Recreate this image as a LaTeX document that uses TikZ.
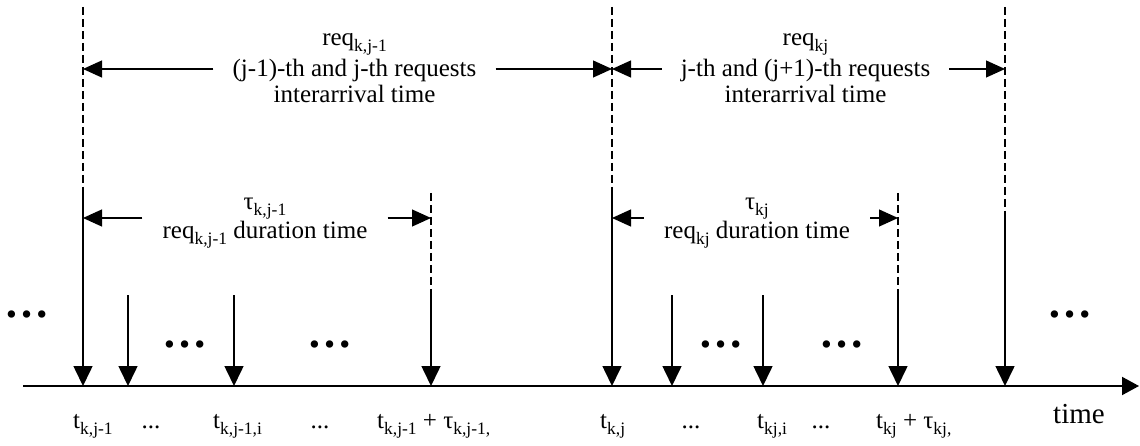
\documentclass[tikz,border=0pt]{standalone}
\usepackage{fontspec}
\setmainfont{Liberation Serif}
\usetikzlibrary{arrows.meta}
\newcommand\mysub[1]{\raisebox{-0.24em}{\fontsize{17.5}{18}\selectfont #1}}
\begin{document}
\begin{tikzpicture}[x=1pt,y=-1pt,
  lbl/.style={font=\fontsize{25}{26}\selectfont, inner sep=0pt},
  bigl/.style={font=\fontsize{29}{30}\selectfont, inner sep=0pt},
  dotsn/.style={font=\fontsize{45}{45}\selectfont\bfseries, inner sep=0pt},
  vdash/.style={line width=1.3pt, dash pattern=on 8pt off 4pt},
  varrow/.style={line width=1.6pt, -{Triangle[length=20pt,width=19pt]}},
  dimarrow/.style={line width=1.2pt, -{Triangle[length=19pt,width=17pt]}},
  axisline/.style={line width=2pt, -{Triangle[length=17pt,width=18pt]}}]
\useasboundingbox (0,0) rectangle (1140,446);

% axis
\coordinate (ax0) at (23,386);
\coordinate (ax1) at (1139,386);
\draw[axisline] (ax0) -- (ax1);

% tick points on the axis
\coordinate (p1) at (83,386);
\coordinate (p2) at (128,386);
\coordinate (p3) at (234,386);
\coordinate (p4) at (431,386);
\coordinate (p5) at (612,386);
\coordinate (p6) at (672,386);
\coordinate (p7) at (763,386);
\coordinate (p8) at (898,386);
\coordinate (p9) at (1005,386);

% tops of dashed lines
\coordinate (q1) at (83,7);
\coordinate (q5) at (612,7);
\coordinate (q9) at (1005,7);
\coordinate (q4) at (431,193);
\coordinate (q8) at (898,193);

% start of solid arrows
\coordinate (s1) at (83,187);
\coordinate (s5) at (612,187);
\coordinate (s9) at (1005,211);
\coordinate (s2) at (128,295);
\coordinate (s3) at (234,295);
\coordinate (s4) at (431,295);
\coordinate (s6) at (672,295);
\coordinate (s7) at (763,295);
\coordinate (s8) at (898,295);

% dashed lines
\draw[vdash] (q1) -- (s1);
\draw[vdash] (q5) -- (s5);
\draw[vdash] (q9) -- (s9);
\draw[vdash] (q4) -- (s4);
\draw[vdash] (q8) -- (s8);

% vertical arrows
\foreach \i in {1,...,9} {\draw[varrow] (s\i) -- (p\i);}

% top dimension texts
\node[lbl, anchor=base] (rq1) at (354.5,46) {req\mysub{k,j-1}};
\node[lbl, anchor=base, inner xsep=19pt] (ia1) at (354.5,77) {(j-1)-th and j-th requests};
\node[lbl, anchor=base] (it1) at (354.5,103) {interarrival time};
\node[lbl, anchor=base] (rq2) at (805.5,46) {req\mysub{kj}};
\node[lbl, anchor=base, inner xsep=19pt] (ia2) at (805.5,77) {j-th and (j+1)-th requests};
\node[lbl, anchor=base] (it2) at (805.5,103) {interarrival time};

\coordinate (ta1) at (83,69);
\coordinate (ta2) at (612,69);
\coordinate (ta3) at (1005,69);
\draw[dimarrow] (ia1.west |- ta1) -- (ta1);
\draw[dimarrow] (ia1.east |- ta1) -- (ta2);
\draw[dimarrow] (ia2.west |- ta1) -- (ta2);
\draw[dimarrow] (ia2.east |- ta1) -- (ta3);

% duration texts
\node[lbl, anchor=base] (tau1) at (265,210) {τ\mysub{k,j-1}};
\node[lbl, anchor=base, inner xsep=20pt] (du1) at (265,239) {req\mysub{k,j-1} duration time};
\node[lbl, anchor=base] (tau2) at (757,210) {τ\mysub{kj}};
\node[lbl, anchor=base, inner xsep=20pt] (du2) at (757,239) {req\mysub{kj} duration time};

\coordinate (tb1) at (83,218);
\coordinate (tb2) at (431,218);
\coordinate (tb3) at (612,218);
\coordinate (tb4) at (898,218);
\draw[dimarrow] (du1.west |- tb1) -- (tb1);
\draw[dimarrow] (du1.east |- tb1) -- (tb2);
\draw[dimarrow] (du2.west |- tb1) -- (tb3);
\draw[dimarrow] (du2.east |- tb1) -- (tb4);

% dots
\node[dotsn] (e1) at (27,314) {…};
\node[dotsn] (e2) at (185,344) {…};
\node[dotsn] (e3) at (330,344) {…};
\node[dotsn] (e4) at (721,344) {…};
\node[dotsn] (e5) at (842,344) {…};
\node[dotsn] (e6) at (1070,314) {…};

% axis labels
\node[lbl, anchor=base west] (l1) at (73,428) {t\mysub{k,j-1}};
\node[lbl, anchor=base] (l2) at (151,428) {...};
\node[lbl, anchor=base west] (l3) at (213,428) {t\mysub{k,j-1,i}};
\node[lbl, anchor=base] (l4) at (320,428) {...};
\node[lbl, anchor=base west] (l5) at (377,428) {t\mysub{k,j-1} + τ\mysub{k,j-1,}};
\node[lbl, anchor=base west] (l6) at (600,428) {t\mysub{k,j}};
\node[lbl, anchor=base] (l7) at (691,428) {...};
\node[lbl, anchor=base west] (l8) at (757,428) {t\mysub{kj,i}};
\node[lbl, anchor=base] (l9) at (821,428) {...};
\node[lbl, anchor=base west] (l10) at (876,428) {t\mysub{kj} + τ\mysub{kj,}};
\node[bigl, anchor=base west] (tm) at (1053,423) {time};
\end{tikzpicture}
\end{document}
